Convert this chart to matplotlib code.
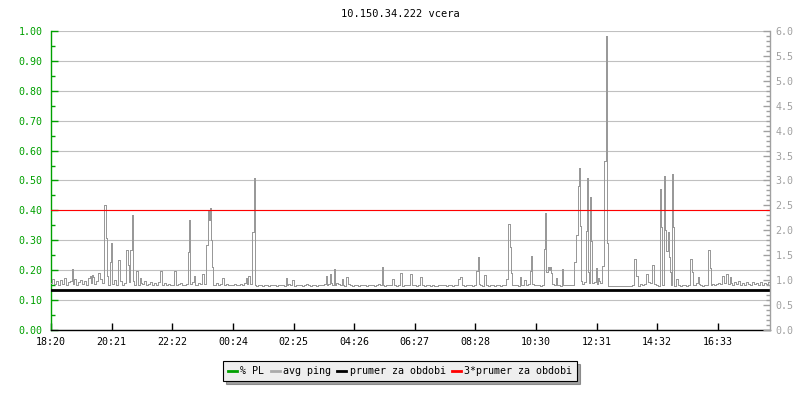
import matplotlib
matplotlib.use('Agg')
import matplotlib.pyplot as plt
from matplotlib.lines import Line2D
from matplotlib.ticker import MultipleLocator, FormatStrFormatter
import numpy as np

plt.rcParams['font.family'] = 'DejaVu Sans Mono'
plt.rcParams['font.size'] = 7.2

title = '10.150.34.222 vcera'
tick_labels = ['18:20', '20:21', '22:22', '00:24', '02:25', '04:26',
               '06:27', '08:28', '10:30', '12:31', '14:32', '16:33']
legend_labels = ['% PL', 'avg ping', 'prumer za obdobi', '3*prumer za obdobi']

# avg ping baseline, one value every 4 minutes starting at 18:20
ping_base = [
    0.95, 1.02, 0.92, 0.98, 0.90, 1.00, 0.93, 1.04, 0.91, 0.97, 0.99, 0.92, 1.03, 0.90, 0.96, 1.01, 0.93, 0.98, 0.91, 1.05,
    0.94, 1.06, 0.92, 0.99, 0.91, 1.03, 0.95, 0.93, 1.08, 0.90, 0.96, 0.92, 1.00, 0.91, 0.95, 0.98, 0.90, 0.94, 0.92, 0.97,
    0.93, 0.99, 0.91, 1.02, 0.90, 0.95, 0.92, 0.98, 0.90, 0.93, 0.96, 0.91, 0.94, 0.90, 0.97, 0.92, 0.91, 0.95, 0.90, 0.93,
    0.91, 0.90, 0.94, 0.90, 0.92, 0.95, 0.90, 0.91, 0.93, 0.90, 0.92, 0.96, 0.91, 0.90, 0.94, 0.92, 0.90, 0.93, 0.91, 0.95,
    0.92, 0.90, 0.91, 0.94, 0.90, 0.92, 0.90, 0.91, 0.93, 0.90, 0.91, 0.90, 0.92, 0.90, 0.91, 0.93, 0.90, 0.95, 0.92, 0.96,
    0.93, 0.90, 0.91, 0.89, 0.90, 0.90, 0.89, 0.91, 0.90, 0.89, 0.90, 0.91, 0.90, 0.89, 0.90, 0.90, 0.91, 0.89, 0.90, 0.92,
    0.91, 0.90, 0.89, 0.90, 0.91, 0.90, 0.89, 0.90, 0.92, 0.90, 0.89, 0.91, 0.90, 0.89, 0.90, 0.91, 0.90, 0.93, 0.90, 0.92,
    0.94, 0.91, 0.90, 0.95, 0.92, 0.90, 0.91, 0.89, 0.90, 0.92, 0.90, 0.89, 0.91, 0.90, 0.89, 0.90, 0.91, 0.90, 0.89, 0.90,
    0.90, 0.91, 0.89, 0.90, 0.92, 0.90, 0.91, 0.89, 0.90, 0.91, 0.90, 0.92, 0.90, 0.89, 0.91, 0.90, 0.89, 0.90, 0.91, 0.90,
    0.93, 0.91, 0.90, 0.89, 0.90, 0.91, 0.90, 0.89, 0.90, 0.90, 0.89, 0.90, 0.89, 0.89, 0.90, 0.91, 0.90, 0.90, 0.89, 0.90,
    0.90, 0.89, 0.90, 0.91, 0.93, 0.91, 0.90, 0.89, 0.90, 0.90, 0.91, 0.89, 0.90, 0.90, 0.92, 0.90, 0.89, 0.91, 0.90, 0.89,
    0.90, 0.91, 0.89, 0.90, 0.90, 0.89, 0.91, 0.90, 0.89, 0.90, 0.92, 0.90, 0.91, 0.90, 0.89, 0.90, 0.91, 0.93, 0.90, 0.92,
    0.95, 0.92, 0.90, 0.91, 0.90, 0.89, 0.90, 0.91, 0.90, 0.89, 0.90, 0.92, 0.90, 0.91, 0.90, 0.89, 0.90, 0.90, 0.91, 0.90,
    0.90, 0.91, 0.90, 0.95, 0.93, 0.98, 0.92, 0.97, 0.93, 0.95, 0.92, 0.94, 0.96, 0.93, 0.99, 0.95, 0.92, 0.97, 0.90, 0.89,
    0.88, 0.89, 0.88, 0.89, 0.88, 0.88, 0.89, 0.88, 0.89, 0.88, 0.88, 0.90, 0.89, 0.90, 0.88, 0.92, 0.90, 0.93, 0.91, 0.96,
    0.94, 0.98, 0.92, 0.90, 0.89, 0.92, 0.91, 0.90, 0.95, 0.91, 0.90, 0.92, 0.89, 0.90, 0.91, 0.89, 0.90, 0.91, 0.89, 0.90,
    0.92, 0.90, 0.91, 0.95, 0.93, 0.90, 0.89, 0.91, 0.90, 0.89, 0.91, 0.92, 0.90, 0.93, 0.95, 0.92, 0.96, 0.94, 0.91, 0.93,
    0.94, 0.90, 0.96, 0.92, 0.98, 0.91, 0.95, 0.90, 0.97, 0.93, 0.91, 0.96, 0.92, 0.94, 0.90, 0.97, 0.91, 0.95, 0.93, 0.96,
]

# ping spikes: minutes after 18:20 and value
spike_min = [42, 78, 82, 96, 108, 110, 118, 120, 136, 152, 154, 160, 162, 172, 178,
             220, 248, 274, 276, 286, 304, 312, 314, 316, 318, 320, 322, 344, 390, 396,
             404, 406, 470, 484, 550, 558, 566, 582, 592, 662, 684, 700, 720, 740,
             816, 820, 852, 854, 868, 912, 916, 918, 920, 938, 948, 958, 960,
             986, 988, 992, 994, 996, 998, 1000, 1010, 1022, 1048, 1052, 1054, 1056, 1058,
             1070, 1072, 1074, 1078, 1080, 1090, 1094, 1104, 1108, 1110, 1112,
             1168, 1172, 1192, 1204, 1218, 1220, 1226, 1228, 1232, 1234, 1236, 1238,
             1242, 1244, 1252, 1280, 1282, 1294, 1316, 1318, 1344, 1352, 1358]
spike_val = [1.22, 1.08, 1.10, 1.14, 2.50, 1.85, 1.37, 1.75, 1.40, 1.60, 1.30, 1.60, 2.31, 1.19, 1.05,
             1.19, 1.19, 1.57, 2.21, 1.08, 1.12, 1.70, 2.41, 2.21, 2.44, 1.81, 1.27, 1.04, 1.05, 1.08,
             1.97, 3.06, 1.05, 1.00, 1.08, 1.12, 1.22, 1.02, 1.06, 1.26, 1.02, 1.14, 1.12, 1.06,
             1.02, 1.06, 1.19, 1.46, 1.10, 1.02, 2.13, 1.67, 1.15, 1.06, 1.00, 1.19, 1.48,
             1.62, 2.34, 1.17, 1.27, 1.21, 1.27, 1.15, 1.04, 1.22, 1.36, 1.91, 2.88, 3.26, 2.09,
             1.99, 3.06, 1.17, 2.67, 1.79, 1.24, 1.04, 1.29, 3.39, 5.89, 1.75,
             1.42, 1.09, 1.12, 1.30, 2.83, 2.06, 3.09, 2.01, 1.59, 1.97, 1.47, 1.17,
             3.13, 2.06, 1.02, 1.42, 1.17, 1.07, 1.61, 1.24, 1.08, 1.12, 1.06]

avg_ping = 0.8          # prumer za obdobi
avg_ping_3 = 2.4        # 3*prumer za obdobi
tick_min = [0, 121, 242, 364, 485, 606, 727, 848, 970, 1091, 1212, 1333]

# merge baseline and spikes
series = {4 * k: v for k, v in enumerate(ping_base)}
for t, v in zip(spike_min, spike_val):
    series[t] = v
t_all = sorted(series)
v_all = [series[t] for t in t_all]

green = '#00a000'
gray_txt = '#a0a0a0'

fig = plt.figure(figsize=(8, 4), dpi=100)
ax = fig.add_axes([51 / 800, 70 / 400, 719 / 800, 299 / 400])
ax2 = ax.twinx()

ax.set_xlim(0, 1438)
ax.set_ylim(0, 1)
ax2.set_ylim(0, 6)

# grid on left axis
ax.yaxis.set_major_locator(MultipleLocator(0.1))
ax.yaxis.set_minor_locator(MultipleLocator(0.05))
ax.yaxis.set_major_formatter(FormatStrFormatter('%.2f'))
ax.grid(axis='y', color='#c0c0c0', linewidth=0.8)
ax.set_axisbelow(True)
ax.tick_params(axis='y', which='major', direction='in', length=5, width=1,
               colors=green, pad=6)
ax.tick_params(axis='y', which='minor', direction='in', length=3, width=1, colors=green)

ax.set_xticks(tick_min)
ax.set_xticklabels(tick_labels)
ax.tick_params(axis='x', direction='in', length=5, width=1, colors='black', pad=5)

ax2.yaxis.set_major_locator(MultipleLocator(0.5))
ax2.yaxis.set_minor_locator(MultipleLocator(0.1))
ax2.yaxis.set_major_formatter(FormatStrFormatter('%.1f'))
ax2.tick_params(axis='y', which='major', direction='in', length=5, width=1,
                colors=gray_txt, pad=4)
ax2.tick_params(axis='y', which='minor', direction='in', length=3, width=1, colors=gray_txt)

for a in (ax, ax2):
    a.spines['top'].set_visible(False)
ax.spines['right'].set_visible(False)
ax2.spines['left'].set_visible(False)
ax2.spines['bottom'].set_visible(False)
ax.spines['left'].set_color(green)
ax.spines['left'].set_linewidth(1)
ax.spines['bottom'].set_color('black')
ax.spines['bottom'].set_linewidth(1)
ax2.spines['right'].set_color(gray_txt)
ax2.spines['right'].set_linewidth(1)

ax2.plot(t_all, v_all, color='#999999', linewidth=0.5, drawstyle='steps-mid',
         antialiased=False)
ax2.axhline(avg_ping, color='black', linewidth=2.0)
ax2.axhline(avg_ping_3, color='#ff0000', linewidth=0.8)

fig.text(0.5, 1 - 14 / 400, title, ha='center', va='center', fontsize=7.5, color='black')

handles = [Line2D([], [], color=green, linewidth=2),
           Line2D([], [], color='#aaaaaa', linewidth=2),
           Line2D([], [], color='black', linewidth=2),
           Line2D([], [], color='#ff0000', linewidth=2)]
leg = fig.legend(handles, legend_labels, loc='center', bbox_to_anchor=(0.5, 1 - 371 / 400),
                 ncol=4, handlelength=0.9, handletextpad=0.35, columnspacing=0.6,
                 frameon=True, fancybox=False, shadow=True, fontsize=7.2,
                 borderpad=0.5)
leg.get_frame().set_edgecolor('black')
leg.get_frame().set_facecolor('#eeeeee')
leg.get_frame().set_linewidth(0.8)

fig.savefig('out.png', dpi=100)
